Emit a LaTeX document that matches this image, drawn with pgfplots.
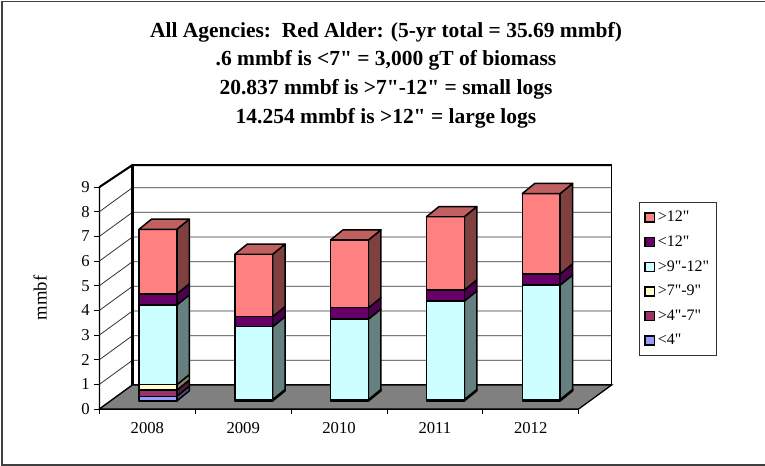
\documentclass[border=0pt]{standalone}
\usepackage{fontspec}
\setmainfont{Liberation Serif}[Ligatures=TeXOff]
\usepackage{pgfplots}
\pgfplotsset{compat=1.18}
\definecolor{cRed}{HTML}{FF8080}
\definecolor{cRedS}{HTML}{804040}
\definecolor{cRedT}{HTML}{C06060}
\definecolor{cPur}{HTML}{660066}
\definecolor{cPurS}{HTML}{4D004D}
\definecolor{cCya}{HTML}{CCFFFF}
\definecolor{cCyaS}{HTML}{668080}
\definecolor{cYel}{HTML}{FFFFCC}
\definecolor{cYelS}{HTML}{808066}
\definecolor{cMar}{HTML}{993366}
\definecolor{cMarS}{HTML}{4D1A33}
\definecolor{cBlu}{HTML}{9999FF}
\definecolor{cBluS}{HTML}{4D4D80}
\definecolor{cFloor}{HTML}{808080}
% one stacked piece: year index, bottom, top, colour stem
\newcommand{\seg}[4]{%
  \pgfmathsetmacro{\xa}{#1+0.412}\pgfmathsetmacro{\xb}{\xa+0.395}\pgfmathsetmacro{\xc}{\xb+0.13}%
  \pgfmathsetmacro{\ya}{#2+0.324}\pgfmathsetmacro{\yb}{#3+0.324}%
  \pgfmathsetmacro{\yc}{\ya+0.41}\pgfmathsetmacro{\yd}{\yb+0.41}%
  \edef\tmp{\noexpand\addplot[forget plot,fill=#4S,draw=black,line width=1.1pt,line join=round] coordinates {(\xb,\ya) (\xc,\yc) (\xc,\yd) (\xb,\yb)} -- cycle;
  \noexpand\addplot[forget plot,fill=#4,draw=black,line width=1.1pt,line join=round] coordinates {(\xa,\ya) (\xb,\ya) (\xb,\yb) (\xa,\yb)} -- cycle;}\tmp}
% lid of a bar: year index, top
\newcommand{\lid}[2]{%
  \pgfmathsetmacro{\xa}{#1+0.412}\pgfmathsetmacro{\xb}{\xa+0.395}%
  \pgfmathsetmacro{\yb}{#2+0.324}\pgfmathsetmacro{\yd}{\yb+0.41}%
  \pgfmathsetmacro{\xe}{\xa+0.13}\pgfmathsetmacro{\xc}{\xb+0.13}%
  \edef\tmp{\noexpand\addplot[forget plot,fill=cRedT,draw=black,line width=1.1pt,line join=round] coordinates {(\xa,\yb) (\xb,\yb) (\xc,\yd) (\xe,\yd)} -- cycle;}\tmp}
\begin{document}
\begin{tikzpicture}
\useasboundingbox (0,0) rectangle (573.75pt,349.5pt);
\draw[black!75,line width=1.3pt] (573.75pt,348.4pt) -- (1.6pt,348.4pt) -- (1.6pt,0.8pt) -- (573.75pt,0.8pt);
\node[font=\bfseries\fontsize{16.1}{21.5}\selectfont,align=center,anchor=center] at (289.5pt,293.2pt)
  {All Agencies:\ \ Red Alder: (5-yr total = 35.69 mmbf)\\.6 mmbf is <7" = 3,000 gT of biomass\\20.837 mmbf is >7"-12" = small logs\\14.254 mmbf is >12" = large logs};
\begin{axis}[scale only axis, width=359.4pt, height=166.5pt, at={(74.6pt,42.75pt)}, anchor=south west,
  xmin=0, xmax=5, ymin=0, ymax=9, clip=false,
  axis x line*=bottom, axis y line*=left, axis line style={-,black,line width=.95pt},
  xtick={0.5,1.5,2.5,3.5,4.5}, xticklabels={2008,2009,2010,2011,2012}, minor xtick={0,1,2,3,4,5},
  ytick={0,1,...,9}, tick align=outside, major tick length=3.75pt, minor tick length=3.75pt,
  major x tick style={draw=none}, minor x tick style={black,line width=.7pt}, y tick style={black,line width=.7pt},
  /pgf/number format/assume math mode=true,
  tick label style={font=\fontsize{12.5}{14}\selectfont}, xticklabel style={yshift=-2.5pt},
  ylabel={\fontsize{14}{16}\selectfont mmbf}, ylabel style={at={(axis description cs:-0.124,0.5)},anchor=center,rotate=0},
  legend style={at={(1.1265,0.932)},anchor=north west,draw=black!80,line width=.8pt,fill=white,
    font=\fontsize{12}{13}\selectfont,row sep=5pt,inner xsep=3.5pt,inner ysep=4.5pt,cells={anchor=west}},
  legend cell align=left,
  legend image code/.code={\draw[#1,line width=1pt] (0.7pt,-3.4pt) rectangle (7.7pt,3.4pt);}]
% walls
\addplot[forget plot,fill=white,draw=black,line width=.95pt] coordinates {(0,0) (0.344,0.973) (0.344,9.89) (0,9)} -- cycle;
\addplot[forget plot,fill=white,draw=black,line width=.95pt] coordinates {(0.344,0.973) (5.344,0.973) (5.344,9.89) (0.344,9.89)} -- cycle;
% gridlines on the walls
\addplot[forget plot,black!80,line width=.6pt] coordinates {(0,1) (0.344,1.973) (5.344,1.973)};
\addplot[forget plot,black!80,line width=.6pt] coordinates {(0,2) (0.344,2.973) (5.344,2.973)};
\addplot[forget plot,black!80,line width=.6pt] coordinates {(0,3) (0.344,3.973) (5.344,3.973)};
\addplot[forget plot,black!80,line width=.6pt] coordinates {(0,4) (0.344,4.973) (5.344,4.973)};
\addplot[forget plot,black!80,line width=.6pt] coordinates {(0,5) (0.344,5.973) (5.344,5.973)};
\addplot[forget plot,black!80,line width=.6pt] coordinates {(0,6) (0.344,6.973) (5.344,6.973)};
\addplot[forget plot,black!80,line width=.6pt] coordinates {(0,7) (0.344,7.973) (5.344,7.973)};
\addplot[forget plot,black!80,line width=.6pt] coordinates {(0,8) (0.344,8.973) (5.344,8.973)};
\addplot[forget plot,black,line width=1.5pt] coordinates {(0,9) (0.344,9.89) (5.344,9.89)};
\addplot[forget plot,black,line width=1.6pt] coordinates {(0.344,0.973) (0.344,9.89)};
% floor
\addplot[forget plot,fill=cFloor,draw=black,line width=.95pt] coordinates {(0,0) (5,0) (5.344,0.973) (0.344,0.973)} -- cycle;
% 2008
\seg{0}{0.00}{0.19}{cBlu}\seg{0}{0.19}{0.44}{cMar}\seg{0}{0.44}{0.66}{cYel}\seg{0}{0.66}{3.89}{cCya}\seg{0}{3.89}{4.34}{cPur}\seg{0}{4.34}{6.96}{cRed}\lid{0}{6.96}
% 2009
\seg{1}{0.00}{0.03}{cBlu}\seg{1}{0.03}{0.06}{cMar}\seg{1}{0.06}{3.01}{cCya}\seg{1}{3.01}{3.42}{cPur}\seg{1}{3.42}{5.95}{cRed}\lid{1}{5.95}
% 2010
\seg{2}{0.00}{0.03}{cBlu}\seg{2}{0.03}{0.06}{cMar}\seg{2}{0.06}{3.32}{cCya}\seg{2}{3.32}{3.78}{cPur}\seg{2}{3.78}{6.53}{cRed}\lid{2}{6.53}
% 2011
\seg{3}{0.00}{0.03}{cBlu}\seg{3}{0.03}{0.06}{cMar}\seg{3}{0.06}{4.05}{cCya}\seg{3}{4.05}{4.50}{cPur}\seg{3}{4.50}{7.47}{cRed}\lid{3}{7.47}
% 2012
\seg{4}{0.00}{0.03}{cBlu}\seg{4}{0.03}{0.06}{cMar}\seg{4}{0.06}{4.70}{cCya}\seg{4}{4.70}{5.15}{cPur}\seg{4}{5.15}{8.41}{cRed}\lid{4}{8.41}
% legend
\addlegendimage{fill=cRed,draw=black}\addlegendentry{>12"}
\addlegendimage{fill=cPur,draw=black}\addlegendentry{<12"}
\addlegendimage{fill=cCya,draw=black}\addlegendentry{>9"-12"}
\addlegendimage{fill=cYel,draw=black}\addlegendentry{>7"-9"}
\addlegendimage{fill=cMar,draw=black}\addlegendentry{>4"-7"}
\addlegendimage{fill=cBlu,draw=black}\addlegendentry{<4"}
\end{axis}
\end{tikzpicture}
\end{document}
